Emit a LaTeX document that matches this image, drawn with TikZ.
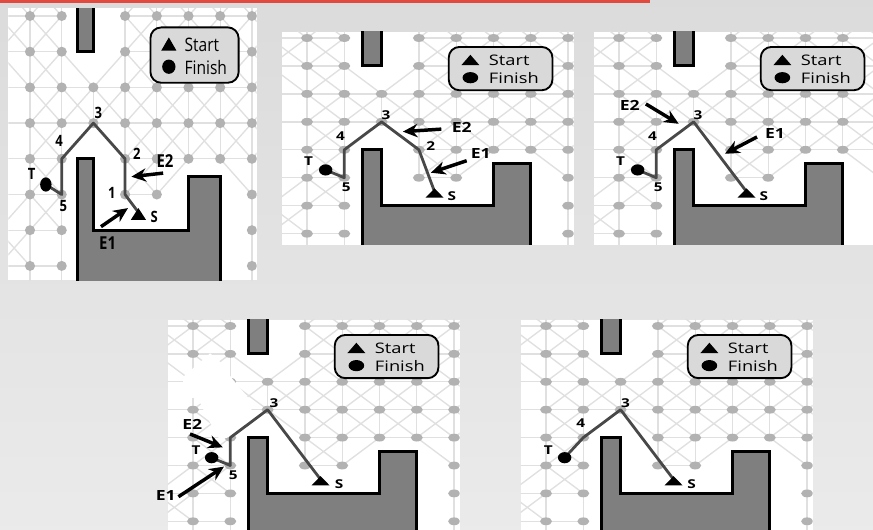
\documentclass[tikz,border=0pt]{standalone}
\usepackage{fontspec}
\setmainfont{Open Sans}
\usepackage{xcolor}
\usetikzlibrary{arrows.meta}

\definecolor{gridline}{HTML}{E0E0E0}
\definecolor{griddot}{HTML}{B2B2B2}
\definecolor{wallfill}{HTML}{7F7F7F}
\definecolor{legendfill}{HTML}{D9D9D9}
\definecolor{routeline}{HTML}{484848}
\definecolor{topbar}{HTML}{E2493F}

\tikzset{
  panelat/.style n args={4}{shift={(#1,#2)},xscale=#3/34,yscale=#4/32,x=25.5pt,y=-24pt},
  wall/.style={draw=black,fill=wallfill,line width=2.2pt,line join=miter},
  legendbox/.style={draw=black,fill=legendfill,line width=1.4pt,rounded corners=8pt},
  legendtext/.style={font=\fontsize{12.5}{14}\selectfont,anchor=west,inner sep=0pt,transform shape},
  maplabel/.style={font=\bfseries\fontsize{10.5}{12}\selectfont,inner sep=0pt,transform shape},
  edgelabel/.style={font=\bfseries\fontsize{12}{14}\selectfont,inner sep=0pt,transform shape},
  route/.style={draw=routeline,line width=2.1pt,line join=round},
  pointer/.style={-{Stealth[length=11pt,width=10pt]},line width=2.6pt,black},
}

% grid, walls and legend of one panel, in grid units
\newcommand{\basemap}[1]{
  \fill[white] (-.68,-.22) rectangle (7.15,7.4);
  \begin{scope}
    \clip (-.68,-.22) rectangle (7.15,7.4);
    \begin{scope}[draw=gridline,line width=1pt]
      \foreach \r/\a/\b in {0/-1/1,0/3/8,1/-1/1,1/3/8,2/-1/8,3/-1/8,4/-1/1,4/3/8,5/-1/1,5/3/4,6/-1/1,7/-1/1}
        \draw (\a,\r) -- (\b,\r);
      \foreach \c/\a/\b in {0/-1/8,1/-1/8,2/2/3,3/-1/5,4/-1/5,5/-1/4,6/-1/4,7/-1/8}
        \draw (\c,\a) -- (\c,\b);
      % crossed cells
      \foreach \c/\r in {-1/-1,-1/0,-1/6,0/-1,0/0,0/1,0/2,0/3,0/4,0/5,1/2,2/2,
        3/-1,3/0,3/1,3/2,3/3,3/4,4/-1,4/0,4/1,4/2,4/3,5/-1,5/0,5/1,5/2,5/3,
        6/-1,6/0,6/1,6/2,6/3,7/-1,7/0,7/1,7/2,7/3}
        \draw (\c,\r) -- +(1,1) (\c,\r) ++(1,0) -- +(-1,1);
      % single diagonals
      \draw (-1,1) -- (0,2) (0,5) -- (-1,6) (1,1) -- (2,2) (3,1) -- (2,2);
      \draw (2,3) -- (1,4) (2,3) -- (3,4) (5,4) -- (4,5) (6,4) -- (7,5);
    \end{scope}
    \foreach \r/\cols in {0/{0,1,3,4,5,6,7},1/{0,1,3,4,5,6,7},2/{0,...,7},3/{0,...,7},
      4/{0,1,3,4,5,6,7},5/{0,1,3,4,7},6/{0,1,7},7/{0,1,7}}
      \foreach \c in \cols
        \fill[griddot] (\c,\r) ellipse [x radius=.16,y radius=.14];
    \draw[wall] (1.5,-1) rectangle (2,1);
    \draw[wall] (1.5,9) -- (1.5,4) -- (2,4) -- (2,6) -- (5,6) -- (5,4.5) -- (6,4.5) -- (6,9);
    \draw[legendbox] (3.8,.32) rectangle (6.58,1.87);
    \fill (4.14,.97) -- (4.62,.97) -- (4.38,.6) -- cycle;
    \fill (4.38,1.42) ellipse [x radius=.21,y radius=.2];
    \node[legendtext] (#1start) at (4.87,.8) {Start};
    \node[legendtext] (#1finish) at (4.87,1.44) {Finish};
  \end{scope}
  \coordinate (#1s) at (3.42,5.5);
  \coordinate (#1t) at (.5,4.72);
  \coordinate (#11) at (3,5);
  \coordinate (#12) at (3,4);
  \coordinate (#13) at (2,3);
  \coordinate (#14) at (1,4);
  \coordinate (#15) at (1,5);
}
% start and finish markers
\newcommand{\goalmarks}{
  \fill (3.18,5.71) -- (3.66,5.71) -- (3.42,5.38) -- cycle;
  \fill (.5,4.72) ellipse [x radius=.18,y radius=.2];
}

\begin{document}
\begin{tikzpicture}[x=.75pt,y=-.75pt]
\useasboundingbox (0,0) rectangle (873,529);
\shade[top color=black!14,bottom color=black!8] (0,0) rectangle (873,529);
\fill[topbar] (0,0) rectangle (650,3.3);

\begin{scope}[panelat={30}{16}{31.7}{35.7}]
  \basemap{a}
  \draw[route] (as) -- (a1) -- (a2) -- (a3) -- (a4) -- (a5) -- (at);
  \goalmarks
  \node[maplabel] (al1) at (2.58,4.95) {1};
  \node[maplabel] (al2) at (3.37,3.85) {2};
  \node[maplabel] (al3) at (2.16,2.72) {3};
  \node[maplabel] (al4) at (.92,3.49) {4};
  \node[maplabel] (al5) at (1.05,5.32) {5};
  \node[maplabel] (alt) at (.05,4.43) {T};
  \node[maplabel] (als) at (3.92,5.62) {S};
  \node[edgelabel] (ae1) at (2.45,6.35) {E1};
  \node[edgelabel] (ae2) at (4.26,4.05) {E2};
  \coordinate (ae1a) at (2.24,5.9);
  \coordinate (ae1b) at (3.09,5.38);
  \coordinate (ae2a) at (4.2,4.4);
  \coordinate (ae2b) at (3.2,4.5);
  \draw[pointer] (ae1a) -- (ae1b);
  \draw[pointer] (ae2a) -- (ae2b);
\end{scope}

\begin{scope}[panelat={307}{38}{37.3}{27.95}]
  \basemap{b}
  \draw[route] (bs) -- (b2) -- (b3) -- (b4) -- (b5) -- (bt);
  \goalmarks
  \node[maplabel] (bl2) at (3.32,3.86) {2};
  \node[maplabel] (bl3) at (2.12,2.75) {3};
  \node[maplabel] (bl4) at (.9,3.5) {4};
  \node[maplabel] (bl5) at (1.05,5.35) {5};
  \node[maplabel] (blt) at (.04,4.42) {T};
  \node[maplabel] (bls) at (3.88,5.65) {S};
  \node[edgelabel] (be1) at (4.66,4.12) {E1};
  \node[edgelabel] (be2) at (4.15,3.19) {E2};
  \coordinate (be1a) at (4.28,4.39);
  \coordinate (be1b) at (3.32,4.82);
  \coordinate (be2a) at (3.6,3.26);
  \coordinate (be2b) at (2.57,3.35);
  \draw[pointer] (be1a) -- (be1b);
  \draw[pointer] (be2a) -- (be2b);
\end{scope}

\begin{scope}[panelat={619}{38}{37.3}{27.95}]
  \basemap{c}
  \draw[route] (cs) -- (c3) -- (c4) -- (c5) -- (ct);
  \goalmarks
  \node[maplabel] (cl3) at (2.12,2.75) {3};
  \node[maplabel] (cl4) at (.9,3.5) {4};
  \node[maplabel] (cl5) at (1.05,5.35) {5};
  \node[maplabel] (clt) at (.04,4.42) {T};
  \node[maplabel] (cls) at (3.88,5.65) {S};
  \node[edgelabel] (ce1) at (4.18,3.43) {E1};
  \node[edgelabel] (ce2) at (.29,2.4) {E2};
  \coordinate (ce1a) at (3.7,3.54);
  \coordinate (ce1b) at (2.84,4.14);
  \coordinate (ce2a) at (.72,2.36);
  \coordinate (ce2b) at (1.6,3.07);
  \draw[pointer] (ce1a) -- (ce1b);
  \draw[pointer] (ce2a) -- (ce2b);
\end{scope}

\begin{scope}[panelat={193}{326}{37.3}{27.9}]
  \basemap{d}
  % painted out part of the map
  \fill[white] (-.26,1.82) -- (.46,.98) -- (.77,1.34) -- (1.04,1.87) -- (1.53,2.65)
    -- (1.61,3.37) -- (.99,3.97) -- (.72,4.09) -- (.37,3.25) -- (.13,2.58)
    -- (-.13,2.58) -- (-.27,2.17) -- cycle;
  \draw[route] (ds) -- (d3) -- (d4) -- (d5) -- (dt);
  \goalmarks
  \node[maplabel] (dl3) at (2.17,2.75) {3};
  \node[maplabel] (dl5) at (1.08,5.36) {5};
  \node[maplabel] (dlt) at (.08,4.44) {T};
  \node[maplabel] (dls) at (3.92,5.66) {S};
  \node[edgelabel] (de1) at (-.73,6.09) {E1};
  \node[edgelabel] (de2) at (-.02,3.52) {E2};
  \coordinate (de1a) at (-.39,6.12);
  \coordinate (de1b) at (.83,5.04);
  \coordinate (de2a) at (-.08,3.87);
  \coordinate (de2b) at (.8,4.35);
  \draw[pointer] (de1a) -- (de1b);
  \draw[pointer] (de2a) -- (de2b);
\end{scope}

\begin{scope}[panelat={546}{326}{37.3}{27.9}]
  \basemap{e}
  \draw[route] (es) -- (e3) -- (e4) -- (et);
  \goalmarks
  \node[maplabel] (el3) at (2.13,2.75) {3};
  \node[maplabel] (el4) at (.93,3.49) {4};
  \node[maplabel] (elt) at (.06,4.44) {T};
  \node[maplabel] (els) at (3.9,5.66) {S};
\end{scope}
\end{tikzpicture}
\end{document}
